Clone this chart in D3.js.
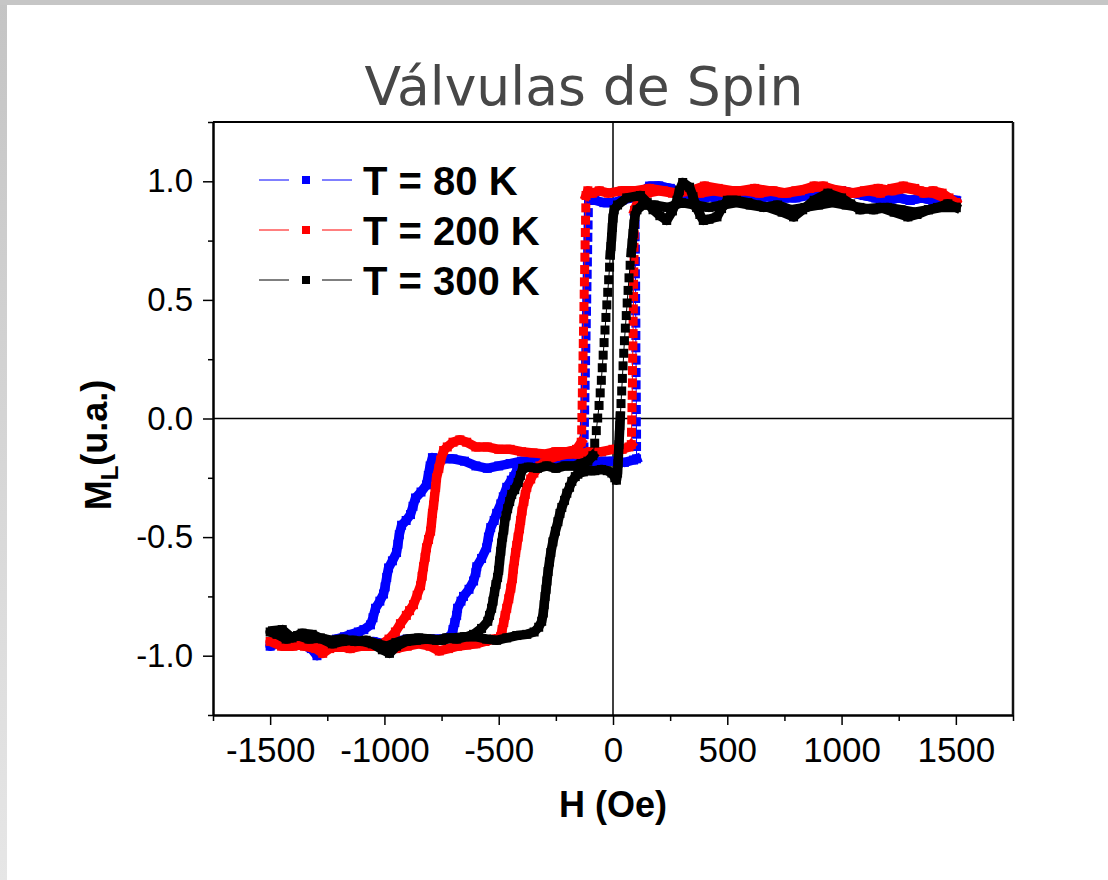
<!DOCTYPE html>
<html>
<head>
<meta charset="utf-8">
<script src="https://cdn.jsdelivr.net/npm/d3@7"></script>
<style>
  body { margin: 0; background: #fff; }
  text { font-family: "Liberation Sans", Arial, sans-serif; }
</style>
</head>
<body>
<div id="chart"></div>
<script>

// ---- data (H in Oe, M normalised), each loop goes +1500 -> -1500 -> +1500
var seriesNames = ["T = 80 K", "T = 200 K", "T = 300 K"];

var loop80K = [
  [1500,0.91],[1450,0.92],[1400,0.92],[1350,0.93],[1300,0.92],[1250,0.93],[1200,0.92],[1150,0.93],[1100,0.94],[1050,0.95],
  [1000,0.96],[950,0.95],[900,0.96],[850,0.94],[800,0.93],[750,0.93],[700,0.94],[650,0.93],[600,0.93],[550,0.94],
  [500,0.93],[450,0.93],[400,0.94],[350,0.94],[300,0.95],[250,0.97],[200,0.98],[160,0.98],[120,0.95],[80,0.93],
  [40,0.92],[0,0.91],[-40,0.91],[-80,0.92],[-106,0.92],
  [-108,0.868],[-109,0.816],[-110,0.764],[-111,0.712],[-112,0.66],[-113,0.608],[-114,0.556],[-115,0.504],[-116,0.452],
  [-117,0.40],[-118,0.348],[-119,0.296],[-120,0.244],[-121,0.192],[-122,0.14],[-123,0.088],[-124,0.036],[-125,-0.016],
  [-126,-0.068],[-127,-0.12],[-130,-0.172],
  [-160,-0.18],[-200,-0.17],[-250,-0.17],[-300,-0.18],[-350,-0.18],[-400,-0.18],[-450,-0.19],[-500,-0.20],[-550,-0.21],
  [-600,-0.20],[-650,-0.18],[-700,-0.17],[-750,-0.17],[-790,-0.165],
  [-800,-0.20],[-808,-0.24],[-816,-0.28],[-840,-0.31],[-864,-0.335],[-875,-0.37],[-886,-0.405],[-905,-0.43],[-925,-0.45],
  [-935,-0.49],[-941,-0.53],[-947,-0.565],[-965,-0.60],[-982,-0.63],[-990,-0.67],[-997,-0.71],[-1004,-0.74],[-1020,-0.77],
  [-1039,-0.80],[-1050,-0.84],[-1061,-0.87],[-1090,-0.89],[-1114,-0.90],[-1145,-0.91],[-1175,-0.92],
  [-1210,-0.93],[-1250,-0.95],[-1275,-0.98],[-1295,-1.0],[-1320,-0.97],[-1370,-0.95],[-1420,-0.96],[-1470,-0.95],[-1500,-0.96],
  [-1450,-0.94],[-1400,-0.93],[-1350,-0.94],[-1300,-0.95],[-1250,-0.94],[-1200,-0.93],[-1150,-0.94],[-1100,-0.95],
  [-1050,-0.94],[-1000,-0.95],[-950,-0.94],[-900,-0.93],[-850,-0.94],[-800,-0.93],[-750,-0.93],[-710,-0.92],
  [-700,-0.89],[-692,-0.86],[-684,-0.83],[-680,-0.80],[-665,-0.77],[-654,-0.75],[-630,-0.72],[-610,-0.685],[-600,-0.65],
  [-596,-0.625],[-575,-0.59],[-553,-0.545],[-545,-0.50],[-535,-0.46],[-520,-0.43],[-509,-0.40],[-491,-0.36],[-480,-0.33],
  [-465,-0.29],[-445,-0.26],[-434,-0.245],[-421,-0.22],[-404,-0.195],
  [-350,-0.19],[-300,-0.18],[-250,-0.19],[-200,-0.18],[-150,-0.185],[-100,-0.19],[-50,-0.18],[0,-0.18],[50,-0.185],
  [90,-0.175],[103,-0.17],
  [103,-0.118],[103,-0.066],[102,-0.014],[102,0.038],[102,0.09],[101,0.142],[101,0.194],[101,0.246],[100,0.298],
  [100,0.35],[100,0.402],[99,0.454],[99,0.506],[99,0.558],[98,0.61],[98,0.662],[98,0.714],[97,0.766],[97,0.818],[97,0.87],
  [110,0.91],[150,0.96],[200,0.98],[250,0.97],[300,0.95],[350,0.94],[400,0.93],[450,0.94],[500,0.93],[550,0.92],
  [600,0.93],[650,0.94],[700,0.93],[750,0.94],[800,0.95],[850,0.96],[900,0.97],[950,0.96],[1000,0.96],[1050,0.95],
  [1100,0.94],[1150,0.93],[1200,0.92],[1250,0.93],[1300,0.92],[1350,0.93],[1400,0.92],[1450,0.93],[1500,0.92]
];

var loop200K = [
  [1500,0.91],[1470,0.93],[1440,0.95],[1400,0.96],[1360,0.95],[1320,0.97],[1270,0.98],[1220,0.97],[1170,0.95],[1120,0.96],
  [1060,0.95],[1000,0.96],[940,0.97],[880,0.98],[820,0.96],[760,0.95],[700,0.96],[640,0.95],[580,0.96],[520,0.96],
  [460,0.97],[400,0.98],[340,0.96],[280,0.95],[220,0.96],[160,0.97],[100,0.96],[40,0.96],[-20,0.95],[-60,0.96],
  [-90,0.95],[-110,0.96],[-118,0.94],
  [-119,0.888],[-120,0.836],[-121,0.784],[-122,0.732],[-123,0.68],[-124,0.628],[-125,0.576],[-126,0.524],[-127,0.472],
  [-128,0.42],[-129,0.368],[-130,0.316],[-131,0.264],[-132,0.212],[-133,0.16],[-134,0.108],[-135,0.056],[-136,0.004],
  [-137,-0.048],[-139,-0.10],
  [-160,-0.13],[-200,-0.14],[-250,-0.14],[-300,-0.15],[-350,-0.145],[-400,-0.14],[-450,-0.13],[-500,-0.13],[-550,-0.12],
  [-600,-0.12],[-640,-0.10],[-670,-0.09],[-700,-0.10],[-725,-0.12],
  [-741,-0.135],[-754,-0.175],[-762,-0.21],[-772,-0.25],[-776,-0.29],[-781,-0.33],[-785,-0.365],[-790,-0.40],[-794,-0.44],
  [-798,-0.475],[-807,-0.51],[-816,-0.545],[-822,-0.585],[-829,-0.625],[-835,-0.665],[-842,-0.705],[-857,-0.745],
  [-873,-0.785],[-890,-0.81],[-904,-0.83],[-930,-0.865],[-952,-0.90],[-980,-0.93],
  [-1010,-0.95],[-1050,-0.96],[-1100,-0.96],[-1150,-0.95],[-1200,-0.96],[-1240,-0.97],[-1270,-0.99],[-1300,-0.97],
  [-1350,-0.96],[-1400,-0.95],[-1450,-0.95],[-1500,-0.94],
  [-1450,-0.96],[-1400,-0.96],[-1350,-0.95],[-1300,-0.96],[-1250,-0.95],[-1200,-0.96],[-1150,-0.97],[-1100,-0.96],
  [-1050,-0.95],[-1000,-0.96],[-950,-0.97],[-900,-0.96],[-850,-0.95],[-800,-0.96],[-760,-0.98],[-720,-0.97],[-680,-0.96],
  [-640,-0.955],[-600,-0.95],[-560,-0.94],[-520,-0.93],[-492,-0.92],
  [-485,-0.89],[-478,-0.86],[-472,-0.83],[-465,-0.80],[-456,-0.76],[-447,-0.715],[-440,-0.675],[-436,-0.635],[-431,-0.60],
  [-426,-0.565],[-421,-0.535],[-415,-0.50],[-409,-0.465],[-404,-0.43],[-398,-0.39],[-390,-0.35],[-384,-0.32],[-377,-0.29],
  [-360,-0.255],[-346,-0.23],[-320,-0.20],[-290,-0.175],
  [-250,-0.16],[-200,-0.15],[-150,-0.15],[-100,-0.14],[-50,-0.14],[0,-0.13],[40,-0.13],[70,-0.12],[80,-0.11],
  [81,-0.058],[82,-0.006],[83,0.046],[84,0.098],[85,0.15],[85,0.202],[86,0.254],[87,0.306],[88,0.358],[88,0.41],
  [89,0.462],[90,0.514],[90,0.566],[91,0.618],[92,0.67],[92,0.722],[93,0.774],[94,0.826],[94,0.878],
  [110,0.92],[150,0.95],[200,0.96],[260,0.95],[320,0.96],[380,0.95],[440,0.96],[500,0.95],[560,0.96],[620,0.97],
  [680,0.96],[740,0.95],[800,0.96],[860,0.97],[920,0.98],[980,0.96],[1040,0.95],[1100,0.96],[1160,0.97],[1220,0.96],
  [1280,0.97],[1340,0.96],[1400,0.95],[1450,0.93],[1500,0.91]
];

var loop300K = [
  [1500,0.89],[1465,0.905],[1420,0.89],[1380,0.88],[1330,0.86],[1290,0.85],[1230,0.87],[1170,0.89],[1120,0.885],
  [1080,0.88],[1040,0.905],[1000,0.93],[940,0.95],[880,0.92],[830,0.88],[790,0.85],[740,0.87],[680,0.89],[630,0.90],
  [590,0.91],[540,0.92],[500,0.92],[475,0.885],[455,0.85],[420,0.84],[395,0.835],[380,0.86],[365,0.89],[350,0.935],
  [335,0.975],[305,0.995],[290,0.96],[280,0.92],[260,0.875],[235,0.835],[205,0.855],[175,0.88],[150,0.91],[120,0.94],
  [60,0.93],[20,0.90],[5,0.88],
  [0,0.845],[-3,0.805],[-6,0.765],[-9,0.725],[-12,0.69],
  [-15,0.638],[-19,0.585],[-23,0.532],[-27,0.479],[-31,0.426],[-35,0.373],[-39,0.32],[-43,0.267],[-47,0.214],
  [-51,0.161],[-56,0.108],[-61,0.055],[-67,0.002],[-73,-0.051],[-80,-0.104],[-88,-0.157],
  [-110,-0.18],[-140,-0.19],[-170,-0.20],[-210,-0.20],[-250,-0.21],[-290,-0.20],[-330,-0.21],[-370,-0.205],[-395,-0.21],
  [-405,-0.24],[-415,-0.27],[-430,-0.30],[-443,-0.32],[-452,-0.35],[-461,-0.38],[-468,-0.41],[-474,-0.435],[-478,-0.47],
  [-483,-0.50],[-487,-0.525],[-491,-0.56],[-496,-0.60],[-500,-0.64],[-505,-0.67],[-512,-0.70],[-518,-0.73],[-525,-0.77],
  [-531,-0.80],[-540,-0.83],[-548,-0.855],[-575,-0.885],[-610,-0.91],
  [-640,-0.92],[-684,-0.93],[-728,-0.925],[-772,-0.935],[-816,-0.93],[-860,-0.935],[-904,-0.94],[-947,-0.96],
  [-978,-0.99],[-1009,-0.975],[-1053,-0.95],[-1096,-0.94],[-1140,-0.935],[-1184,-0.94],[-1228,-0.95],[-1272,-0.93],
  [-1316,-0.91],[-1360,-0.905],[-1404,-0.925],[-1447,-0.89],[-1490,-0.895],[-1500,-0.90],
  [-1470,-0.91],[-1430,-0.93],[-1380,-0.915],[-1330,-0.93],[-1280,-0.925],[-1230,-0.935],[-1180,-0.93],[-1130,-0.94],
  [-1080,-0.935],[-1030,-0.95],[-990,-0.96],[-950,-0.945],[-900,-0.93],[-850,-0.925],[-800,-0.93],[-750,-0.935],
  [-700,-0.925],[-650,-0.92],[-600,-0.92],[-553,-0.93],[-509,-0.935],[-465,-0.925],[-421,-0.915],[-377,-0.91],[-345,-0.90],
  [-325,-0.88],[-312,-0.855],[-305,-0.82],[-301,-0.785],[-297,-0.75],[-293,-0.72],[-289,-0.685],[-284,-0.645],
  [-278,-0.605],[-272,-0.565],[-263,-0.52],[-252,-0.475],[-241,-0.435],[-232,-0.40],[-224,-0.375],[-212,-0.345],
  [-202,-0.315],[-190,-0.29],[-180,-0.265],[-165,-0.245],[-154,-0.235],[-130,-0.225],[-110,-0.22],
  [-80,-0.22],[-50,-0.215],[-25,-0.22],[-5,-0.23],[8,-0.25],[15,-0.26],[20,-0.23],[22,-0.19],[24,-0.15],[26,-0.11],
  [28,-0.07],[30,-0.03],[32,0.01],
  [35,0.063],[38,0.116],[41,0.169],[44,0.222],[47,0.275],[50,0.328],[54,0.381],[58,0.434],[62,0.487],[66,0.54],
  [70,0.593],[75,0.646],[80,0.699],
  [84,0.74],[88,0.78],[92,0.82],[96,0.855],[105,0.88],[130,0.90],
  [180,0.90],[240,0.89],[300,0.91],[360,0.90],[420,0.89],[480,0.90],[540,0.91],[600,0.90],[660,0.89],[720,0.90],
  [780,0.88],[840,0.89],[900,0.90],[960,0.91],[1020,0.90],[1080,0.89],[1140,0.88],[1200,0.89],[1260,0.88],[1320,0.87],
  [1380,0.88],[1440,0.89],[1500,0.89]
];

var xTicks = [-1500, -1000, -500, 0, 500, 1000, 1500];
var xMinorTicks = [-1750, -1250, -750, -250, 250, 750, 1250, 1750];
var yTicks = [-1.0, -0.5, 0.0, 0.5, 1.0];
var yMinorTicks = [-1.25, -0.75, -0.25, 0.25, 0.75, 1.25];

// ---- layout
var svgWidth = 1108;
var svgHeight = 880;
var plot = { left: 213, top: 122, right: 1013, bottom: 715 };
var colors = ["#0000ff", "#ff0000", "#000000"];

var svg = d3.select("#chart")
  .append("svg")
  .attr("width", svgWidth)
  .attr("height", svgHeight);

// window frame (grey strips at top and left)
var grad = svg.append("defs").append("linearGradient")
  .attr("id", "leftEdge").attr("x1", 0).attr("y1", 0).attr("x2", 0).attr("y2", 1);
grad.append("stop").attr("offset", "0%").attr("stop-color", "#c4c4c4");
grad.append("stop").attr("offset", "100%").attr("stop-color", "#e6e6e6");

svg.append("rect").attr("x", 0).attr("y", 0).attr("width", svgWidth).attr("height", svgHeight).attr("fill", "#fff");
svg.append("rect").attr("x", 0).attr("y", 0).attr("width", 7).attr("height", svgHeight).attr("fill", "url(#leftEdge)");
svg.append("rect").attr("x", 0).attr("y", 0).attr("width", svgWidth).attr("height", 5).attr("fill", "#c6c6c6");

var x = d3.scaleLinear().domain([-1750, 1750]).range([plot.left, plot.right]);
var y = d3.scaleLinear().domain([-1.25, 1.25]).range([plot.bottom, plot.top]);

// zero lines
svg.append("line")
  .attr("x1", x(0)).attr("x2", x(0)).attr("y1", plot.top).attr("y2", plot.bottom)
  .attr("stroke", "#000").attr("stroke-width", 1.5);
svg.append("line")
  .attr("x1", plot.left).attr("x2", plot.right).attr("y1", y(0)).attr("y2", y(0))
  .attr("stroke", "#000").attr("stroke-width", 1.5);

// ---- loops
var line = d3.line().x(d => x(d[0])).y(d => y(d[1]));

function drawLoop(data, color) {
  var g = svg.append("g");

  // dense stretches of the measurement look like a thick band,
  // the fast switching steps show separate squares
  var runs = [[data[0]]];
  for (var i = 1; i < data.length; i++) {
    var dx = Math.abs(x(data[i][0]) - x(data[i - 1][0]));
    var dy = Math.abs(y(data[i][1]) - y(data[i - 1][1]));
    if (dy > 11 && dx < 0.5 * dy) {
      runs.push([data[i]]);
    } else {
      runs[runs.length - 1].push(data[i]);
    }
  }

  runs.filter(r => r.length > 1).forEach(function(r) {
    g.append("path")
      .attr("d", line(r))
      .attr("fill", "none")
      .attr("stroke", color)
      .attr("stroke-width", 9.5)
      .attr("stroke-linejoin", "round")
      .attr("stroke-linecap", "square");
  });

  g.append("path")
    .attr("d", line(data))
    .attr("fill", "none")
    .attr("stroke", color)
    .attr("stroke-width", 1);

  g.selectAll("rect")
    .data(data)
    .enter()
    .append("rect")
    .attr("x", d => x(d[0]) - 4.5)
    .attr("y", d => y(d[1]) - 4.5)
    .attr("width", 9)
    .attr("height", 9)
    .attr("fill", color);
}

[loop80K, loop200K, loop300K].forEach((d, i) => drawLoop(d, colors[i]));

// ---- axes
var xAxis = svg.append("g")
  .attr("transform", `translate(0, ${plot.bottom})`)
  .call(d3.axisBottom(x).tickValues(xTicks).tickSize(10).tickSizeOuter(0).tickPadding(12)
    .tickFormat(d => String(d)));

svg.append("g")
  .attr("transform", `translate(0, ${plot.bottom})`)
  .call(d3.axisBottom(x).tickValues(xMinorTicks).tickSize(6).tickSizeOuter(0).tickFormat(""));

var yAxis = svg.append("g")
  .attr("transform", `translate(${plot.left}, 0)`)
  .call(d3.axisLeft(y).tickValues(yTicks).tickSize(10).tickSizeOuter(0).tickPadding(10)
    .tickFormat(d => d.toFixed(1)));

svg.append("g")
  .attr("transform", `translate(${plot.left}, 0)`)
  .call(d3.axisLeft(y).tickValues(yMinorTicks).tickSize(5).tickSizeOuter(0).tickFormat(""));

svg.selectAll(".domain").attr("stroke", "#000").attr("stroke-width", 2);
svg.selectAll(".tick line").attr("stroke", "#000").attr("stroke-width", 1.5);

xAxis.selectAll("text")
  .attr("fill", "#000")
  .style("font-size", "35px")
  .style("font-family", "'Liberation Sans', Arial, sans-serif");
yAxis.selectAll("text")
  .attr("fill", "#000")
  .style("font-size", "33px")
  .style("font-family", "'Liberation Sans', Arial, sans-serif");

// top and right frame
svg.append("line")
  .attr("x1", plot.left).attr("x2", plot.right).attr("y1", plot.top).attr("y2", plot.top)
  .attr("stroke", "#000").attr("stroke-width", 2);
svg.append("line")
  .attr("x1", plot.right).attr("x2", plot.right).attr("y1", plot.top).attr("y2", plot.bottom)
  .attr("stroke", "#111").attr("stroke-width", 2.5);

// ---- titles
svg.append("text")
  .attr("x", 584)
  .attr("y", 105)
  .attr("text-anchor", "middle")
  .attr("fill", "#474747")
  .style("font-family", "'DejaVu Sans', sans-serif")
  .style("font-size", "53.5px")
  .text("Válvulas de Spin");

svg.append("text")
  .attr("x", x(0))
  .attr("y", 817)
  .attr("text-anchor", "middle")
  .style("font-size", "36px")
  .style("font-weight", "bold")
  .text("H (Oe)");

var yTitle = svg.append("text")
  .attr("transform", "translate(111, 445) rotate(-90)")
  .attr("text-anchor", "middle")
  .style("font-size", "36px")
  .style("font-weight", "bold");
yTitle.append("tspan").text("M");
yTitle.append("tspan").attr("dy", "0.3em").style("font-size", "24px").text("L");
yTitle.append("tspan").attr("dy", "-0.3em").text("(u.a.)");

// ---- legend
var legend = svg.append("g");
seriesNames.forEach(function(name, i) {
  var ly = 180 + i * 50;
  legend.append("line")
    .attr("x1", 259).attr("x2", 289).attr("y1", ly).attr("y2", ly)
    .attr("stroke", colors[i]).attr("stroke-width", 1);
  legend.append("line")
    .attr("x1", 322).attr("x2", 352).attr("y1", ly).attr("y2", ly)
    .attr("stroke", colors[i]).attr("stroke-width", 1);
  legend.append("rect")
    .attr("x", 302).attr("y", ly - 4).attr("width", 8).attr("height", 8)
    .attr("fill", colors[i]);
  legend.append("text")
    .attr("x", 363)
    .attr("y", ly + 15)
    .style("font-size", "40px")
    .style("font-weight", "bold")
    .text(name);
});

</script>
</body>
</html>
